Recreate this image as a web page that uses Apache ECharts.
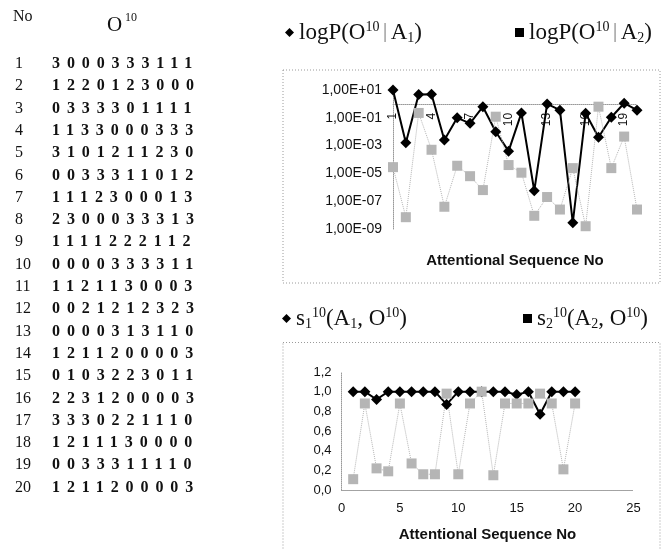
<!DOCTYPE html>
<html><head><meta charset="utf-8">
<script src="https://cdn.jsdelivr.net/npm/echarts@6/dist/echarts.min.js"></script>
<style>
html,body{margin:0;padding:0;background:#fff;}
#chart{position:absolute;left:0;top:0;width:666px;height:549px;}
#table{position:absolute;left:0;top:0;width:260px;height:549px;font-family:'Liberation Serif','Times New Roman',serif;color:#111;}
.cell{position:absolute;white-space:nowrap;line-height:1;}
</style></head><body>
<div id="chart"></div>
<div id="table"></div>
<script>
// ---------------- data ----------------
const seqNo = [1,2,3,4,5,6,7,8,9,10,11,12,13,14,15,16,17,18,19,20];
const observations = ['3000333111','1220123000','0333301111','1133000333','3101211230',
  '0033311012','1112300013','2300033313','1111222112','0000333311',
  '1121130003','0021212323','0000313110','1211200003','0103223011',
  '2231200003','3330221110','1211130000','0033311110','1211200003'];
// log10 P(O|A1), log10 P(O|A2)
const logP_A1 = [1.0,-2.8,0.68,0.7,-2.6,-1.0,-1.4,-0.2,-2.0,-3.4,-0.65,-6.25,0.0,-0.45,-8.55,-0.67,-2.4,-0.96,0.05,-0.45];
const logP_A2 = [-4.55,-8.15,-0.65,-3.3,-7.4,-4.45,-5.2,-6.2,-0.92,-4.4,-4.95,-8.05,-6.7,-7.6,-4.62,-8.8,-0.2,-4.62,-2.35,-7.6];
// similarity s1(A1,O), s2(A2,O)
const s1 = [1,1,0.92,1,1,1,1,1,0.87,1,1,1,1,1,0.97,1,0.77,1,1,1];
const s2 = [0.11,0.88,0.22,0.19,0.88,0.27,0.16,0.16,0.98,0.16,0.88,1.0,0.15,0.88,0.88,0.88,0.98,0.88,0.21,0.88];
const logTicksMin = -9, logTicksMax = 1;

// ---------------- table (text) ----------------
const tbl = document.getElementById('table');
function cell(html, left, top, style){
  const d = document.createElement('div');
  d.className = 'cell'; d.innerHTML = html;
  d.style.left = left + 'px'; d.style.top = top + 'px';
  Object.assign(d.style, style || {});
  tbl.appendChild(d);
}
cell('No', 13, 8, {fontSize:'16px'});
cell('O', 107, 14, {fontSize:'21px'});
cell('10', 125, 11, {fontSize:'12px'});
observations.forEach((s, i) => {
  const cy = 63 + 22.3 * i;
  cell(String(seqNo[i]), 15, cy - 8, {fontSize:'16px'});
  cell(s, 52, cy - 8, {fontSize:'16px', fontWeight:'bold', letterSpacing:'6.9px'});
});

// ---------------- chart ----------------
const serif = 'Liberation Serif', sans = 'Liberation Sans';
const rich = {
  t:  {fontFamily: serif, fontSize: 23, lineHeight: 25, color:'#111'},
  sup:{fontFamily: serif, fontSize: 14, lineHeight: 14, color:'#111', verticalAlign:'top'},
  sub:{fontFamily: serif, fontSize: 14, lineHeight: 14, color:'#111', verticalAlign:'bottom'},
  bar:{fontFamily: sans, fontSize: 20, lineHeight: 25, color:'#aaa', padding:[0,3,0,3]}
};
const names = ['logP(O10|A1)','logP(O10|A2)','s1(A1,O10)','s2(A2,O10)'];
const legendText = {
  'logP(O10|A1)': '{t|logP(O}{sup|10}{bar||}{t|A}{sub|1}{t|)}',
  'logP(O10|A2)': '{t|logP(O}{sup|10}{bar||}{t|A}{sub|2}{t|)}',
  's1(A1,O10)': '{t|s}{sub|1}{sup|10}{t|(A}{sub|1}{t|, O}{sup|10}{t|)}',
  's2(A2,O10)': '{t|s}{sub|2}{sup|10}{t|(A}{sub|2}{t|, O}{sup|10}{t|)}'
};
function mkLegend(name, icon, left, top){
  return {
    data:[{name:name, icon:icon, itemStyle:{color:'#000', borderWidth:0}}],
    left:left, top:top, itemWidth:9, itemHeight:9, padding:0, selectedMode:false,
    formatter: n => legendText[n],
    textStyle:{fontFamily: serif, fontSize:23, color:'#111', rich: rich}
  };
}
const axisLineGray = {show:true, lineStyle:{color:'#999', type:'dotted', width:1}};
const expLabel = v => {
  const a = Math.abs(Math.round(v));
  return '1,00E' + (v < 0 ? '-' : '+') + (a < 10 ? '0' : '') + a;
};
// top grid geometry: x axis crosses the log axis at 1,00E+00
const topGridTop = 90, topGridH = 139;
const crossOffset = -topGridH * (0 - logTicksMin) / (logTicksMax - logTicksMin);

const option = {
  animation:false,
  backgroundColor:'#fff',
  graphic:[
    {type:'rect', shape:{x:283, y:70, width:377, height:213}, style:{fill:'none', stroke:'#9a9a9a', lineWidth:1, lineDash:[1,2]}, silent:true},
    {type:'rect', shape:{x:283, y:342.5, width:377, height:230}, style:{fill:'none', stroke:'#9a9a9a', lineWidth:1, lineDash:[1,2]}, silent:true}
  ],
  legend:[
    mkLegend(names[0], 'diamond', 285, 20),
    mkLegend(names[1], 'rect', 515, 20),
    mkLegend(names[2], 'diamond', 282, 306),
    mkLegend(names[3], 'rect', 523, 306)
  ],
  grid:[
    {left:393, top:topGridTop, width:244, height:topGridH},
    {left:341.5, top:372, width:292, height:118}
  ],
  xAxis:[
    {gridIndex:0, type:'category', data: seqNo.map(String), boundaryGap:false,
     position:'bottom', offset: crossOffset,
     axisLine:{show:true, onZero:false, lineStyle:{color:'#999', type:'dotted', width:1}},
     axisTick:{show:false},
     axisLabel:{interval:2, rotate:90, margin:9, fontFamily:sans, fontSize:12, color:'#111'},
     splitLine:{show:false},
     name:'Attentional Sequence No', nameLocation:'middle', nameGap:149,
     nameTextStyle:{fontFamily:sans, fontSize:15, fontWeight:'bold', color:'#111'}},
    {gridIndex:1, type:'value', min:0, max:25, interval:5,
     axisLine:axisLineGray, axisTick:{show:false}, splitLine:{show:false},
     axisLabel:{margin:12, fontFamily:sans, fontSize:13, color:'#111'},
     name:'Attentional Sequence No', nameLocation:'middle', nameGap:37,
     nameTextStyle:{fontFamily:sans, fontSize:15, fontWeight:'bold', color:'#111'}}
  ],
  yAxis:[
    {gridIndex:0, type:'value', min:logTicksMin, max:logTicksMax, interval:2,
     axisLine:axisLineGray, axisTick:{show:false}, splitLine:{show:false},
     axisLabel:{formatter: expLabel, margin:11, fontFamily:sans, fontSize:14, color:'#111'}},
    {gridIndex:1, type:'value', min:0, max:1.2, interval:0.2,
     axisLine:axisLineGray, axisTick:{show:false}, splitLine:{show:false},
     axisLabel:{formatter: v => v.toFixed(1).replace('.', ','), margin:10, fontFamily:sans, fontSize:13, color:'#111'}}
  ],
  series:[
    {name:names[0], type:'line', xAxisIndex:0, yAxisIndex:0, data:logP_A1, showAllSymbol:true,
     symbol:'diamond', symbolSize:11, lineStyle:{color:'#000', width:2}, itemStyle:{color:'#000'}},
    {name:names[1], type:'line', xAxisIndex:0, yAxisIndex:0, data:logP_A2, showAllSymbol:true,
     symbol:'rect', symbolSize:10, lineStyle:{color:'#b5b5b5', width:1, type:'dotted'}, itemStyle:{color:'#b5b5b5'}},
    {name:names[2], type:'line', xAxisIndex:1, yAxisIndex:1, data:seqNo.map((n,i)=>[n, s1[i]]), showAllSymbol:true,
     symbol:'diamond', symbolSize:11, lineStyle:{color:'#000', width:2}, itemStyle:{color:'#000'}},
    {name:names[3], type:'line', xAxisIndex:1, yAxisIndex:1, data:seqNo.map((n,i)=>[n, s2[i]]), showAllSymbol:true,
     symbol:'rect', symbolSize:10, lineStyle:{color:'#b5b5b5', width:1, type:'dotted'}, itemStyle:{color:'#b5b5b5'}}
  ]
};
const chart = echarts.init(document.getElementById('chart'));
chart.setOption(option);
</script>
</body></html>
